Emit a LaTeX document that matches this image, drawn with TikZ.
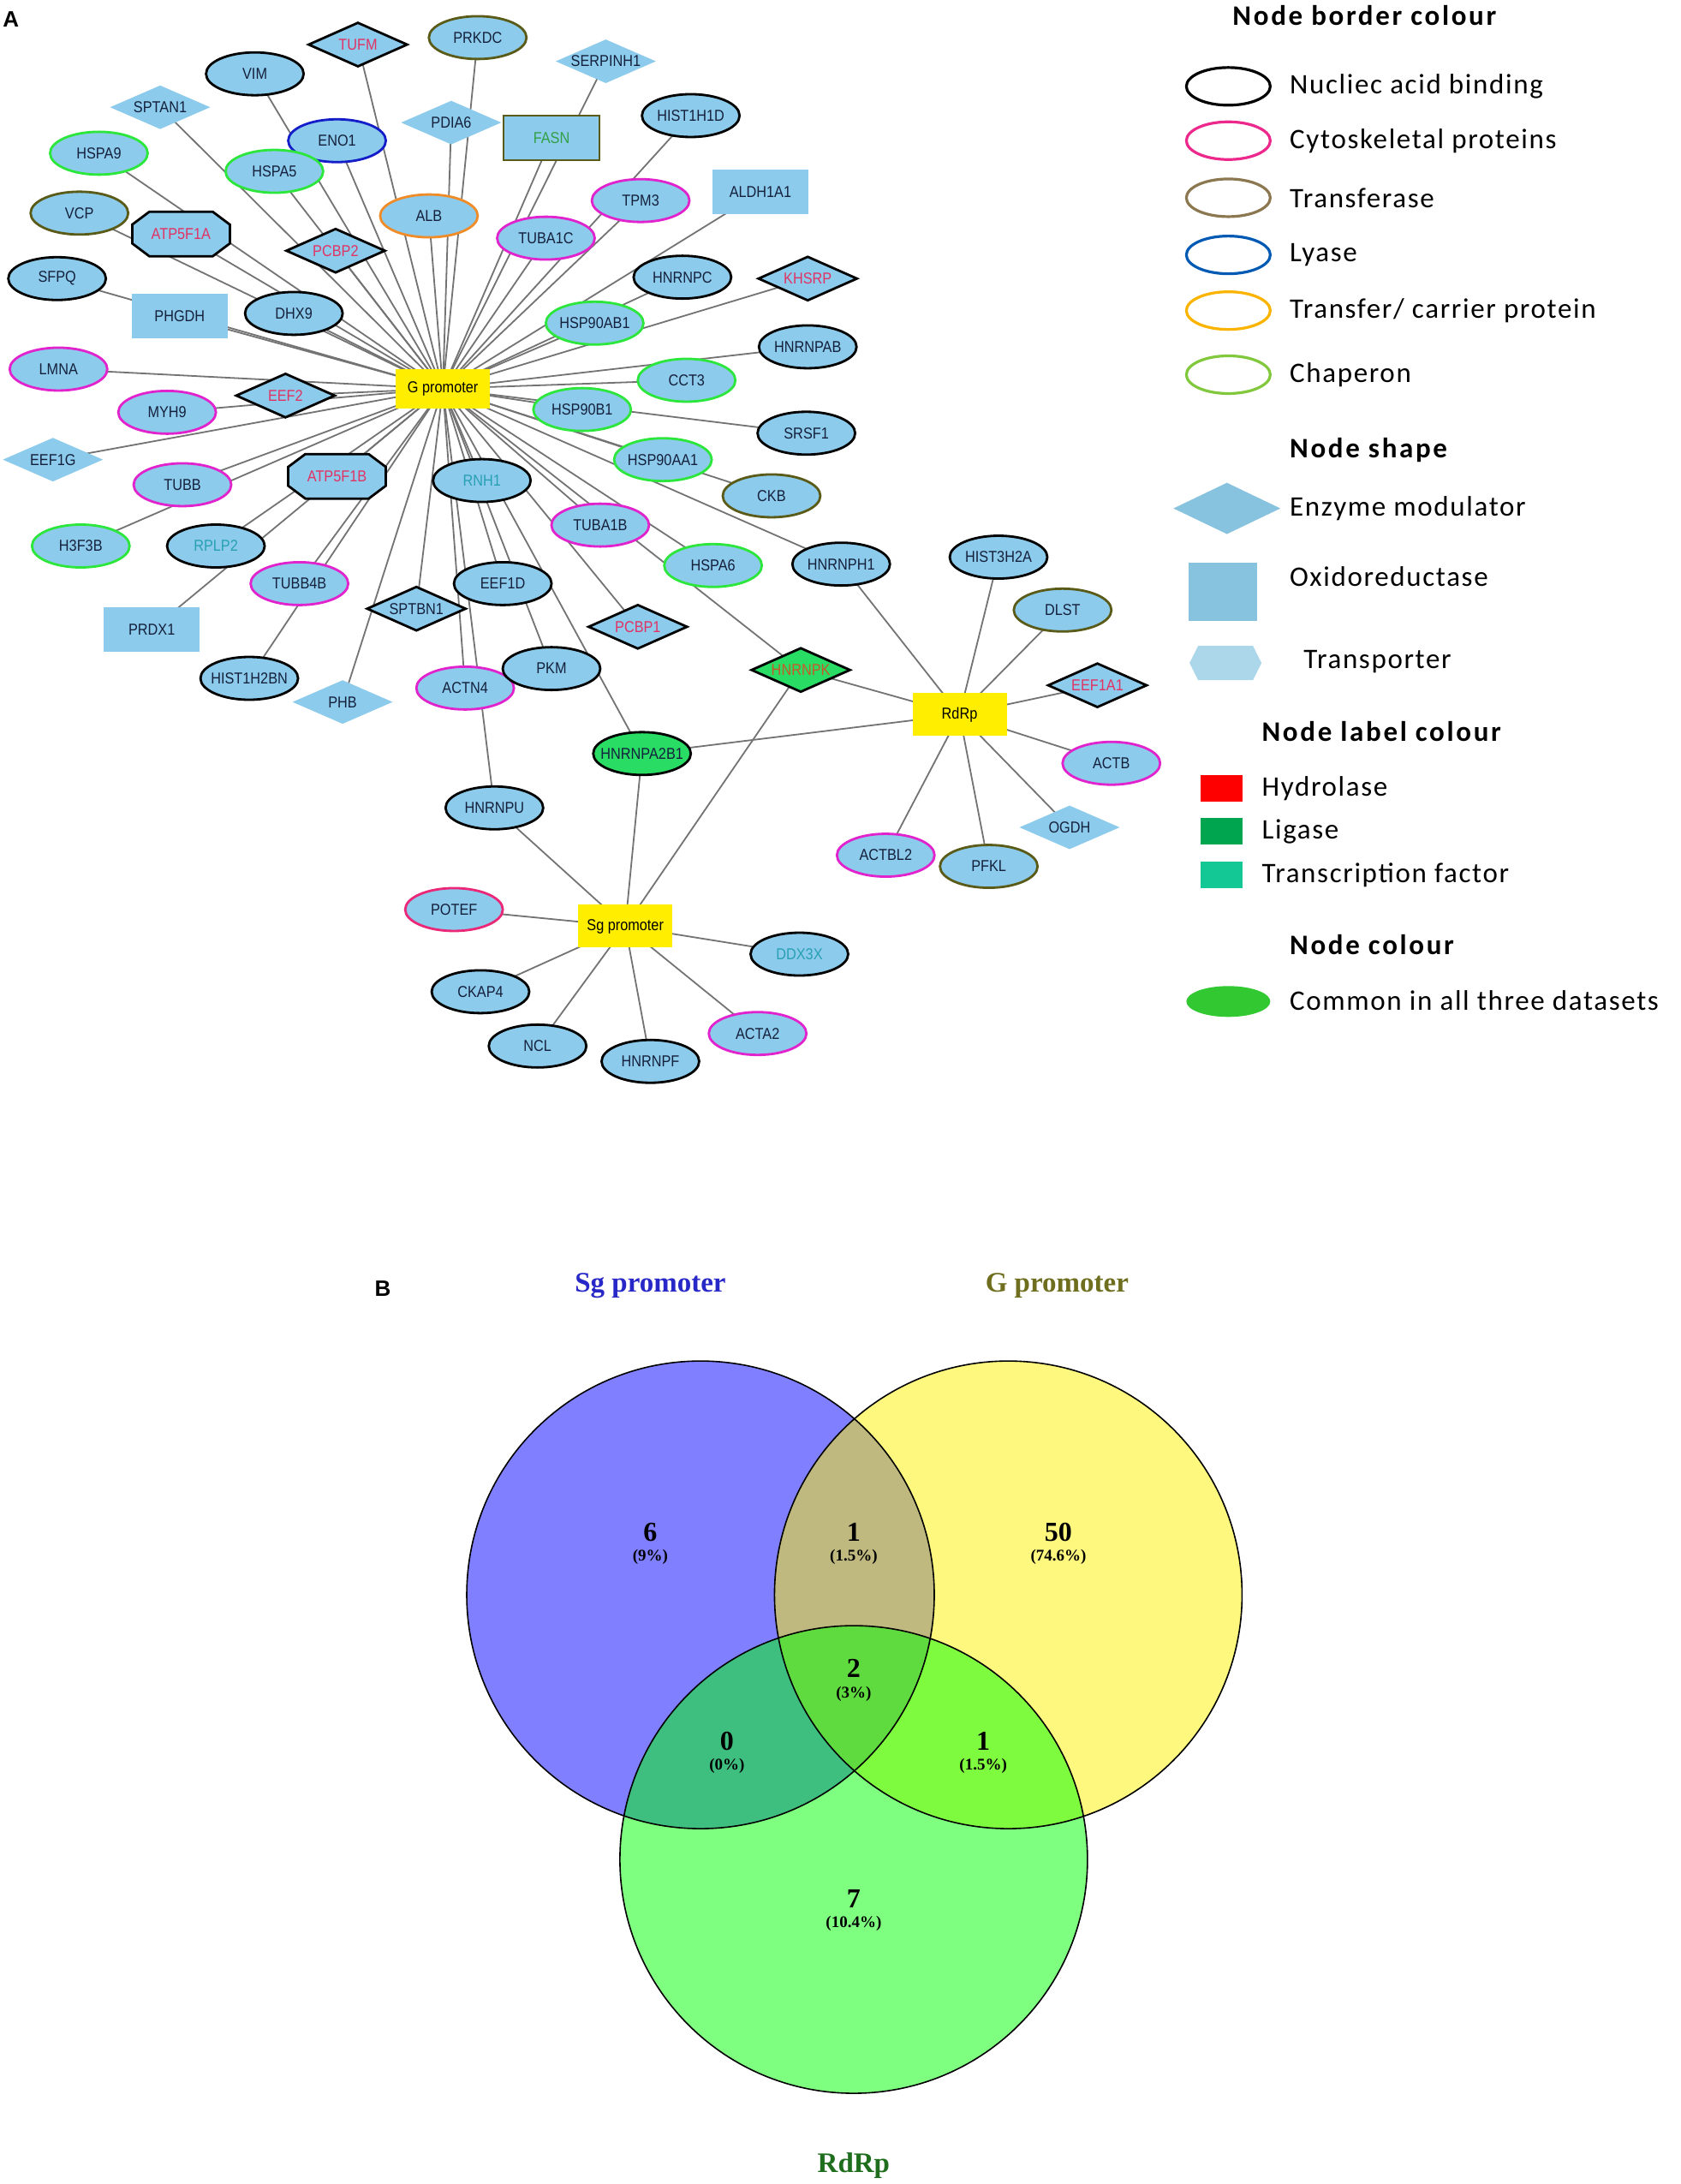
\documentclass[tikz,border=0pt]{standalone}
\usepackage{fontspec}
\setmainfont{Liberation Sans}
\newfontfamily\nodefont[FakeStretch=0.88]{Liberation Sans}
\newfontfamily\legfont[LetterSpace=5]{Carlito}
\newfontfamily\legheadfont[LetterSpace=8]{Carlito}
\newfontfamily\venfont{Liberation Serif}
\usetikzlibrary{shapes.geometric}
\pgfdeclarelayer{background}
\pgfsetlayers{background,main}
\newcommand\netfont{\nodefont\fontsize{18.5}{18.5}\selectfont}
\newcommand\lgfont{\legfont\fontsize{33}{33}\selectfont}
\newcommand\lgheadfont{\legheadfont\fontsize{33}{33}\selectfont\bfseries}
\definecolor{nfill}{RGB}{140,203,235}
\definecolor{ntext}{RGB}{20,32,60}
\definecolor{bmag}{RGB}{225,35,205}
\definecolor{bolive}{RGB}{90,90,25}
\definecolor{bblue}{RGB}{20,30,200}
\definecolor{borange}{RGB}{240,140,40}
\definecolor{bgreen}{RGB}{45,230,60}
\definecolor{bpink}{RGB}{235,40,120}
\definecolor{lred}{RGB}{225,50,100}
\definecolor{lteal}{RGB}{40,160,180}
\definecolor{lgreen}{RGB}{50,160,70}
\definecolor{lorange}{RGB}{200,90,40}
\definecolor{common}{RGB}{40,220,100}
\definecolor{hubyellow}{RGB}{255,238,0}
\definecolor{egray}{RGB}{115,115,115}
\definecolor{gcyto}{RGB}{236,40,140}
\definecolor{gtrans}{RGB}{140,120,80}
\definecolor{glyase}{RGB}{0,90,180}
\definecolor{gcarrier}{RGB}{250,180,0}
\definecolor{gchap}{RGB}{130,200,60}
\definecolor{gshape}{RGB}{135,195,222}
\definecolor{ghex}{RGB}{172,215,235}
\definecolor{ghyd}{RGB}{255,0,0}
\definecolor{glig}{RGB}{0,165,80}
\definecolor{gtf}{RGB}{20,200,150}
\definecolor{gcommon}{RGB}{50,200,50}
\definecolor{vsg}{RGB}{40,40,200}
\definecolor{vg}{RGB}{110,110,30}
\definecolor{vrd}{RGB}{30,110,30}
\tikzset{
  x=1.6263pt, y=-1.6263pt,
  nb/.style={fill=nfill, inner sep=0pt, line width=2.8pt},
  ell/.style={nb, ellipse, draw=#1, minimum width=114pt, minimum height=50pt},
  ell/.default=black,
  dia/.style={nb, diamond, draw=#1, minimum width=116pt, minimum height=52pt},
  dia/.default=black,
  diaplain/.style={nb, diamond, draw=none, minimum width=118pt, minimum height=52pt},
  oxr/.style={nb, rectangle, draw=none, minimum width=112pt, minimum height=52pt},
  octpath/.style={fill=nfill, draw=black, line width=2.8pt},
  hub/.style={fill=hubyellow, inner sep=0pt, minimum width=110pt, minimum height=46pt, font=\netfont, text=black},
  every label/.style={inner sep=0pt, font=\netfont, text=ntext},
  lt/.style={label=center:#1},
  lr/.style={label={[text=lred]center:#1}},
  ltl/.style={label={[text=lteal]center:#1}},
  lg/.style={label={[text=lgreen]center:#1}},
  lo/.style={label={[text=lorange]center:#1}},
  edge/.style={draw=egray, line width=1.8pt},
  lgell/.style={ellipse, line width=3.2pt, minimum width=98pt, minimum height=44pt, inner sep=0pt},
  lgtext/.style={anchor=west, inner sep=0pt, font=\lgfont, text=black},
  lghead/.style={anchor=west, inner sep=0pt, font=\lgheadfont, text=black},
  lgsq/.style={rectangle, inner sep=0pt, minimum width=49pt, minimum height=31pt},
  vc/.style={circle, minimum size=546pt, inner sep=0pt, fill opacity=0.5, draw=none},
  vnum/.style={inner sep=0pt, font=\venfont\bfseries\fontsize{32}{32}\selectfont},
  vpct/.style={inner sep=0pt, font=\venfont\bfseries\fontsize{19}{19}\selectfont},
  vtitle/.style={inner sep=0pt, font=\venfont\bfseries\fontsize{33}{33}\selectfont},
  panel/.style={inner sep=0pt, font=\bfseries\fontsize{26}{26}\selectfont, anchor=west},
}
% octagon node: name, x, y, label
\newcommand\octnode[4]{%
  \coordinate (#1c) at (#2,#3);
  \filldraw[octpath, shift={(#1c)}, x=1pt, y=1pt] (-57,-11) -- (-37,-26) -- (37,-26) -- (57,-11) -- (57,11) -- (37,26) -- (-37,26) -- (-57,11) -- cycle;
  \node[inner sep=0pt, minimum width=114pt, minimum height=52pt, lr=#4] (#1) at (#1c) {};}
\begin{document}
\begin{tikzpicture}
\useasboundingbox (0,0) rectangle (1207,1568);

\node[panel] (pA) at (2,14) {A};
\node[panel] (pB) at (269,925) {B};

% hubs
\node[hub] (G) at (318,279) {G promoter};
\node[hub, minimum height=50pt] (R) at (689,513) {RdRp};
\node[hub, minimum height=50pt] (S) at (449,665) {Sg promoter};

% G-only neighbours
\node[dia, lr=TUFM] (TUFM) at (257,32) {};
\node[ell=bolive, lt=PRKDC] (PRKDC) at (343,27) {};
\node[diaplain, lt=SERPINH1] (SERPINH1) at (435,44) {};
\node[ell, lt=VIM] (VIM) at (183,53) {};
\node[diaplain, lt=SPTAN1] (SPTAN1) at (115,77) {};
\node[diaplain, lt=PDIA6] (PDIA6) at (324,88) {};
\node[ell=bblue, lt=ENO1] (ENO1) at (242,101) {};
\node[oxr, draw=bolive, lg=FASN] (FASN) at (396,99) {};
\node[ell, lt=HIST1H1D] (HIST1H1D) at (496,83) {};
\node[ell=bgreen, lt=HSPA9] (HSPA9) at (71,110) {};
\node[ell=bgreen, lt=HSPA5] (HSPA5) at (197,123) {};
\node[ell=borange, lt=ALB] (ALB) at (308,155) {};
\node[ell=bmag, lt=TPM3] (TPM3) at (460,144) {};
\node[oxr, lt=ALDH1A1] (ALDH1A1) at (546,138) {};
\node[ell=bolive, lt=VCP] (VCP) at (57,153) {};
\octnode{ATP5F1A}{130}{168}{ATP5F1A}
\node[dia, lr=PCBP2] (PCBP2) at (241,180) {};
\node[ell=bmag, lt=TUBA1C] (TUBA1C) at (392,171) {};
\node[ell, lt=SFPQ] (SFPQ) at (41,200) {};
\node[oxr, lt=PHGDH] (PHGDH) at (129,227) {};
\node[ell, lt=DHX9] (DHX9) at (211,225) {};
\node[ell, lt=HNRNPC] (HNRNPC) at (490,199) {};
\node[dia, lr=KHSRP] (KHSRP) at (580,200) {};
\node[ell=bgreen, lt=HSP90AB1] (HSP90AB1) at (427,232) {};
\node[ell, lt=HNRNPAB] (HNRNPAB) at (580,249) {};
\node[ell=bmag, lt=LMNA] (LMNA) at (42,265) {};
\node[ell=bgreen, lt=CCT3] (CCT3) at (493,273) {};
\node[ell=bmag, lt=MYH9] (MYH9) at (120,296) {};
\node[dia, lr=EEF2] (EEF2) at (205,284) {};
\node[ell=bgreen, lt=HSP90B1] (HSP90B1) at (418,294) {};
\node[ell, lt=SRSF1] (SRSF1) at (579,311) {};
\node[diaplain, lt=EEF1G] (EEF1G) at (38,330) {};
\node[ell=bgreen, lt=HSP90AA1] (HSP90AA1) at (476,330) {};
\node[ell=bolive, lt=CKB] (CKB) at (554,356) {};
\node[ell=bmag, lt=TUBB] (TUBB) at (131,348) {};
\octnode{ATP5F1B}{242}{342}{ATP5F1B}
\node[ell, ltl=RNH1] (RNH1) at (346,345) {};
\node[ell=bmag, lt=TUBA1B] (TUBA1B) at (431,377) {};
\node[ell=bgreen, lt=H3F3B] (H3F3B) at (58,392) {};
\node[ell, ltl=RPLP2] (RPLP2) at (155,392) {};
\node[ell=bgreen, lt=HSPA6] (HSPA6) at (512,406) {};
\node[ell=bmag, lt=TUBB4B] (TUBB4B) at (215,419) {};
\node[ell, lt=EEF1D] (EEF1D) at (361,419) {};
\node[oxr, lt=PRDX1] (PRDX1) at (109,452) {};
\node[dia, lt=SPTBN1] (SPTBN1) at (299,437) {};
\node[dia, lr=PCBP1] (PCBP1) at (458,450) {};
\node[ell, lt=HIST1H2BN] (HIST1H2BN) at (179,487) {};
\node[diaplain, lt=PHB] (PHB) at (246,504) {};
\node[ell=bmag, lt=ACTN4] (ACTN4) at (334,494) {};
\node[ell, lt=PKM] (PKM) at (396,480) {};

% shared
\node[ell, lt=HNRNPH1] (HNRNPH1) at (604,405) {};
\node[ell, lt=HNRNPU] (HNRNPU) at (355,580) {};
\node[dia, fill=common, lo=HNRNPK] (HNRNPK) at (575,481) {};
\node[ell, fill=common, lt=HNRNPA2B1] (HNRNPA2B1) at (461,541) {};

% RdRp only
\node[ell, lt=HIST3H2A] (HIST3H2A) at (717,400) {};
\node[ell=bolive, lt=DLST] (DLST) at (763,438) {};
\node[dia, lr=EEF1A1] (EEF1A1) at (788,492) {};
\node[ell=bmag, lt=ACTB] (ACTB) at (798,548) {};
\node[diaplain, lt=OGDH] (OGDH) at (768,594) {};
\node[ell=bolive, lt=PFKL] (PFKL) at (710,622) {};
\node[ell=bmag, lt=ACTBL2] (ACTBL2) at (636,614) {};

% Sg only
\node[ell=bpink, lt=POTEF] (POTEF) at (326,653) {};
\node[ell, ltl=DDX3X] (DDX3X) at (574,685) {};
\node[ell, lt=CKAP4] (CKAP4) at (345,712) {};
\node[ell, lt=NCL] (NCL) at (386,751) {};
\node[ell, lt=HNRNPF] (HNRNPF) at (467,762) {};
\node[ell=bmag, lt=ACTA2] (ACTA2) at (544,742) {};

\begin{pgfonlayer}{background}
\fill[white] (0,0) rectangle (1207,1568);
\foreach \n in {TUFM,PRKDC,SERPINH1,VIM,SPTAN1,PDIA6,ENO1,FASN,HIST1H1D,HSPA9,HSPA5,ALB,TPM3,ALDH1A1,VCP,ATP5F1A,PCBP2,TUBA1C,SFPQ,PHGDH,DHX9,HNRNPC,KHSRP,HSP90AB1,HNRNPAB,LMNA,CCT3,MYH9,EEF2,HSP90B1,SRSF1,EEF1G,HSP90AA1,CKB,TUBB,ATP5F1B,RNH1,TUBA1B,H3F3B,RPLP2,HSPA6,TUBB4B,EEF1D,PRDX1,SPTBN1,PCBP1,HIST1H2BN,PHB,ACTN4,PKM,HNRNPH1,HNRNPU,HNRNPK,HNRNPA2B1}
  \draw[edge] (G.center) -- (\n.center);
\foreach \n in {HNRNPH1,HNRNPK,HNRNPA2B1,HIST3H2A,DLST,EEF1A1,ACTB,OGDH,PFKL,ACTBL2}
  \draw[edge] (R.center) -- (\n.center);
\foreach \n in {HNRNPU,HNRNPK,HNRNPA2B1,POTEF,DDX3X,CKAP4,NCL,HNRNPF,ACTA2}
  \draw[edge] (S.center) -- (\n.center);
\end{pgfonlayer}

% legend
\node[lghead] (h1) at (885,11) {Node border colour};
\node[lgell, draw=black] (e1) at (882,62) {};
\node[lgtext] (t1) at (926,62) {Nucliec acid binding};
\node[lgell, draw=gcyto] (e2) at (882,101) {};
\node[lgtext] (t2) at (926,101) {Cytoskeletal proteins};
\node[lgell, draw=gtrans] (e3) at (882,142) {};
\node[lgtext] (t3) at (926,142) {Transferase};
\node[lgell, draw=glyase] (e4) at (882,183) {};
\node[lgtext] (t4) at (926,183) {Lyase};
\node[lgell, draw=gcarrier] (e5) at (882,223) {};
\node[lgtext] (t5) at (926,223) {Transfer/ carrier protein};
\node[lgell, draw=gchap] (e6) at (882,269) {};
\node[lgtext] (t6) at (926,269) {Chaperon};
\node[lghead] (h2) at (926,323) {Node shape};
\node[diamond, fill=gshape, inner sep=0pt, minimum width=125pt, minimum height=60pt] (s1) at (881,365) {};
\node[lgtext] (t7) at (926,365) {Enzyme modulator};
\node[rectangle, fill=gshape, inner sep=0pt, minimum width=80pt, minimum height=68pt] (s2) at (878,425) {};
\node[lgtext] (t8) at (926,414) {Oxidoreductase};
\coordinate (s3) at (880,476);
\fill[ghex, shift={(s3)}, x=1pt, y=1pt] (-42,0) -- (-32,-20) -- (32,-20) -- (42,0) -- (32,20) -- (-32,20) -- cycle;
\node[lgtext] (t9) at (936,475) {Transporter};
\node[lghead] (h3) at (906,525) {Node label colour};
\node[lgsq, fill=ghyd] (q1) at (877,566) {};
\node[lgtext] (t10) at (906,566) {Hydrolase};
\node[lgsq, fill=glig] (q2) at (877,597) {};
\node[lgtext] (t11) at (906,597) {Ligase};
\node[lgsq, fill=gtf] (q3) at (877,628) {};
\node[lgtext] (t12) at (906,628) {Transcription factor};
\node[lghead] (h4) at (926,678) {Node colour};
\node[ellipse, fill=gcommon, inner sep=0pt, minimum width=98pt, minimum height=36pt] (c1) at (882,719) {};
\node[lgtext] (t13) at (926,718) {Common in all three datasets};

% Venn
\node[vc, fill=blue] (vS) at (503,1145) {};
\node[vc, fill=yellow] (vG) at (724,1145) {};
\node[vc, fill=green] (vR) at (613,1335) {};
\draw[line width=1.6pt] (vS.center) circle[radius=273pt];
\draw[line width=1.6pt] (vG.center) circle[radius=273pt];
\draw[line width=1.6pt] (vR.center) circle[radius=273pt];
\node[vtitle, text=vsg] (tS) at (467,923) {Sg promoter};
\node[vtitle, text=vg] (tG) at (759,923) {G promoter};
\node[vtitle, text=vrd] (tR) at (613,1555) {RdRp};
\node[vnum] (n1) at (467,1100) {6};
\node[vpct] (p1) at (467,1118) {(9\%)};
\node[vnum] (n2) at (613,1100) {1};
\node[vpct] (p2) at (613,1118) {(1.5\%)};
\node[vnum] (n3) at (760,1100) {50};
\node[vpct] (p3) at (760,1118) {(74.6\%)};
\node[vnum] (n4) at (613,1198) {2};
\node[vpct] (p4) at (613,1216) {(3\%)};
\node[vnum] (n5) at (522,1250) {0};
\node[vpct] (p5) at (522,1268) {(0\%)};
\node[vnum] (n6) at (706,1250) {1};
\node[vpct] (p6) at (706,1268) {(1.5\%)};
\node[vnum] (n7) at (613,1363) {7};
\node[vpct] (p7) at (613,1381) {(10.4\%)};
\end{tikzpicture}
\end{document}
